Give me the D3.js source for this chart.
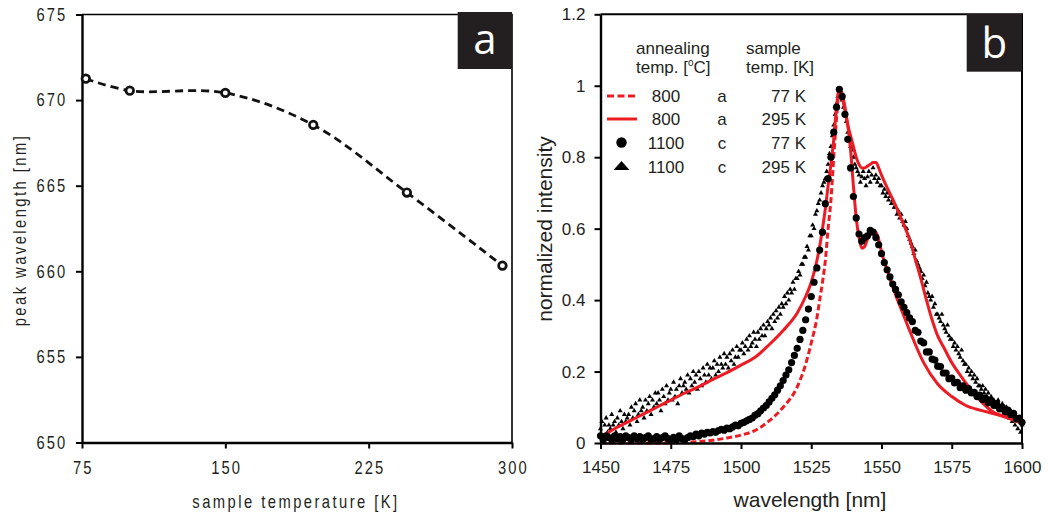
<!DOCTYPE html>
<html>
<head>
<meta charset="utf-8">
<script src="https://cdn.jsdelivr.net/npm/d3@7"></script>
<style>
  body { margin: 0; background: #fff; }
  svg text { font-family: "Liberation Sans", Arial, sans-serif; }
</style>
</head>
<body>
<svg id="chart" width="1049" height="516"></svg>
<script>
// ---- panel a: peak wavelength vs sample temperature
const tempK = [77, 100, 150, 196, 245, 295];
const peakNm = [671.25, 670.55, 670.42, 668.55, 664.6, 660.33];
const tempTicks = [75, 150, 225, 300];
const peakTicks = [650, 655, 660, 665, 670, 675];

// ---- panel b: normalized spectra
const waveTicks = [1450, 1475, 1500, 1525, 1550, 1575, 1600];
const intTicks = [0, 0.2, 0.4, 0.6, 0.8, 1, 1.2];

// 800 C, sample a, 77 K (red dashed)
const dash77Wave = [1450,1460,1470,1480,1485,1490,1495,1500,1505,1510,
  1515,1520,1523,1525,1527,1528,1529,1530,1531,1532,
  1533,1534,1535,1536,1537,1538,1539,1540,1541,1542,
  1543,1544,1545,1546,1547,1548,1549,1550,1552,1555,
  1558,1560,1565,1570,1575,1580,1585,1590,1595,1600];
const dash77Val = [0,0,0,0.002,0.004,0.008,0.014,0.022,0.035,0.062,
  0.1,0.157,0.22,0.28,0.35,0.40,0.45,0.51,0.60,0.68,
  0.80,0.91,0.99,0.98,0.94,0.89,0.82,0.72,0.63,0.575,
  0.545,0.55,0.57,0.585,0.595,0.59,0.57,0.535,0.485,0.415,
  0.355,0.315,0.225,0.165,0.13,0.105,0.092,0.082,0.072,0.055];

// 800 C, sample a, 295 K (red solid)
const solid295Wave = [1450,1455,1460,1465,1470,1475,1480,1485,1490,1495,
  1500,1505,1510,1515,1520,1523,1525,1527,1528,1529,
  1530,1531,1532,1533,1534,1535,1536,1537,1538,1539,
  1540,1541,1542,1543,1544,1545,1546,1547,1548,1549,
  1550,1552,1555,1558,1560,1562,1564,1566,1568,1570,
  1572,1575,1578,1580,1585,1590,1595,1600];
const solid295Val = [0.015,0.04,0.06,0.08,0.10,0.12,0.14,0.158,0.178,0.197,
  0.218,0.24,0.275,0.315,0.364,0.41,0.45,0.51,0.55,0.60,
  0.655,0.72,0.78,0.85,0.94,0.995,0.97,0.93,0.89,0.86,
  0.83,0.80,0.78,0.77,0.77,0.775,0.78,0.785,0.785,0.77,
  0.75,0.715,0.665,0.61,0.57,0.515,0.46,0.40,0.345,0.30,
  0.27,0.225,0.19,0.168,0.12,0.085,0.07,0.055];

// 1100 C, sample c, 77 K (circles), 1 nm steps from 1450
const circ77Val = [0.02,0.01,0.02,0.015,0.01,0.02,0.012,0.018,0.01,0.02,
  0.015,0.01,0.02,0.012,0.018,0.01,0.015,0.02,0.01,0.012,
  0.018,0.01,0.015,0.02,0.012,0.01,0.016,0.01,0.02,0.012,
  0.01,0.015,0.02,0.018,0.025,0.02,0.028,0.025,0.03,0.028,
  0.032,0.03,0.035,0.038,0.036,0.042,0.04,0.045,0.05,0.048,
  0.055,0.058,0.062,0.066,0.07,0.078,0.082,0.09,0.098,0.105,
  0.115,0.125,0.135,0.148,0.16,0.175,0.19,0.205,0.225,0.245,
  0.265,0.29,0.315,0.345,0.375,0.41,0.45,0.49,0.54,0.59,
  0.67,0.74,0.80,0.87,0.94,0.99,0.97,0.92,0.85,0.77,
  0.69,0.63,0.585,0.565,0.575,0.58,0.595,0.59,0.575,0.555,
  0.53,0.505,0.485,0.465,0.445,0.43,0.415,0.395,0.38,0.365,
  0.35,0.34,0.315,0.31,0.285,0.28,0.255,0.255,0.235,0.232,
  0.215,0.214,0.196,0.196,0.18,0.182,0.168,0.17,0.155,0.16,
  0.148,0.152,0.14,0.142,0.13,0.134,0.122,0.126,0.113,0.118,
  0.105,0.11,0.096,0.1,0.088,0.092,0.08,0.083,0.068,0.07,
  0.058];
const circStart = 1450, circStep = 1;

// 1100 C, sample c, 295 K (triangles), 0.5 nm steps from 1450
const tri295Val = [0.04,0.06,0.02,0.05,0.07,0.03,0.05,0.04,0.08,0.05,0.06,0.03,0.07,0.05,0.09,0.06,0.04,0.08,0.06,0.07,
  0.08,0.05,0.10,0.07,0.09,0.11,0.06,0.08,0.12,0.09,0.10,0.07,0.12,0.09,0.11,0.13,0.08,0.12,0.10,0.14,
  0.11,0.14,0.12,0.09,0.15,0.13,0.11,0.16,0.12,0.14,0.15,0.12,0.17,0.13,0.15,0.11,0.16,0.18,0.14,0.16,
  0.17,0.15,0.19,0.14,0.18,0.16,0.20,0.17,0.19,0.15,0.20,0.18,0.16,0.21,0.19,0.17,0.22,0.19,0.21,0.18,
  0.21,0.23,0.19,0.22,0.20,0.24,0.22,0.21,0.25,0.22,0.24,0.21,0.25,0.23,0.26,0.22,0.24,0.27,0.24,0.26,
  0.26,0.28,0.25,0.27,0.29,0.26,0.30,0.27,0.28,0.31,0.29,0.27,0.31,0.29,0.32,0.30,0.33,0.30,0.32,0.34,
  0.33,0.35,0.32,0.36,0.34,0.37,0.35,0.38,0.36,0.39,0.38,0.41,0.39,0.42,0.40,0.43,0.42,0.45,0.43,0.46,
  0.46,0.48,0.47,0.50,0.50,0.52,0.52,0.55,0.54,0.58,0.58,0.61,0.60,0.64,0.65,0.67,0.68,0.70,0.72,0.73,
  0.74,0.76,0.78,0.81,0.83,0.86,0.89,0.92,0.95,0.97,0.98,0.97,0.96,0.94,0.92,0.90,0.87,0.85,0.83,0.82,
  0.80,0.78,0.77,0.76,0.75,0.73,0.745,0.76,0.74,0.72,0.745,0.76,0.73,0.75,0.77,0.74,0.75,0.73,0.74,0.72,
  0.72,0.70,0.71,0.69,0.70,0.68,0.69,0.67,0.68,0.66,0.66,0.64,0.65,0.63,0.64,0.62,0.61,0.62,0.60,0.58,
  0.57,0.56,0.55,0.53,0.54,0.51,0.50,0.49,0.48,0.46,0.47,0.44,0.45,0.42,0.41,0.40,0.41,0.38,0.39,0.36,
  0.36,0.35,0.34,0.36,0.33,0.32,0.31,0.33,0.30,0.29,0.29,0.27,0.28,0.26,0.27,0.25,0.24,0.26,0.23,0.22,
  0.22,0.20,0.21,0.19,0.20,0.18,0.19,0.17,0.18,0.16,0.16,0.15,0.16,0.14,0.15,0.13,0.14,0.12,0.13,0.12,
  0.12,0.11,0.10,0.12,0.09,0.10,0.11,0.08,0.09,0.10,0.08,0.07,0.09,0.06,0.08,0.05,0.07,0.04,0.06,0.03,
  0.05];
const triStart = 1450, triStep = 0.5;

// legend rows
const legAnneal = ["800", "800", "1100", "1100"];
const legSample = ["a", "a", "c", "c"];
const legTemp = ["77 K", "295 K", "77 K", "295 K"];

const RED = "#ec1c24";
const INK = "#231f20";
const svg = d3.select("#chart");

function boxLabel(x, y, w, h, letter, baseY) {
  svg.append("rect").attr("x", x).attr("y", y).attr("width", w).attr("height", h)
    .attr("fill", INK);
  svg.append("text").attr("x", x + w / 2).attr("y", baseY)
    .attr("text-anchor", "middle").attr("fill", "#fff")
    .style("font-family", "'Open Sans', sans-serif").style("font-size", "42px")
    .text(letter);
}

// ================= panel a =================
const A = {left: 82, right: 512, top: 14.5, bottom: 442.5};
const xa = d3.scaleLinear().domain([75, 300]).range([A.left, A.right]);
const ya = d3.scaleLinear().domain([650, 675]).range([A.bottom, A.top]);
const SQ = 0.82; // squeeze to mimic a narrow face

const narrow = g => g.selectAll("text")
  .style("font-size", "18px").style("letter-spacing", "2.5px").attr("fill", INK);

svg.append("path")
  .attr("d", `M${A.left},${A.top}H${A.right}V${A.bottom}`)
  .attr("fill", "none").attr("stroke", "#000").attr("stroke-width", 1.6);

svg.append("g")
  .attr("transform", `translate(0,${A.bottom})`)
  .call(d3.axisBottom(xa).tickValues(tempTicks).tickSize(6).tickPadding(13).tickSizeOuter(0))
  .call(g => g.select(".domain").attr("stroke-width", 2.4))
  .call(g => g.selectAll(".tick line").attr("stroke-width", 2))
  .call(narrow)
  .call(g => g.selectAll(".tick text").attr("transform", `scale(${SQ},1)`).attr("dx", "1px"));

svg.append("g")
  .attr("transform", `translate(${A.left},0)`)
  .call(d3.axisLeft(ya).tickValues(peakTicks).tickSize(6).tickPadding(12).tickSizeOuter(0))
  .call(g => g.select(".domain").attr("stroke-width", 2.4))
  .call(g => g.selectAll(".tick line").attr("stroke-width", 2))
  .call(narrow)
  .call(g => g.selectAll(".tick text").attr("transform", `scale(${SQ},1)`));

const peakData = tempK.map((t, i) => ({t, v: peakNm[i]}));
svg.append("path")
  .datum(peakData)
  .attr("fill", "none").attr("stroke", "#111").attr("stroke-width", 2.8)
  .attr("stroke-dasharray", "8,5")
  .attr("d", d3.line().curve(d3.curveCatmullRom).x(d => xa(d.t)).y(d => ya(d.v)));

svg.append("g").selectAll("circle")
  .data(peakData).join("circle")
  .attr("cx", d => xa(d.t)).attr("cy", d => ya(d.v)).attr("r", 3.8)
  .attr("fill", "#fff").attr("stroke", "#111").attr("stroke-width", 2.7);

svg.append("text")
  .attr("transform", `translate(296,508) scale(${SQ},1)`).attr("text-anchor", "middle")
  .style("font-size", "18px").style("letter-spacing", "3px").attr("fill", INK)
  .text("sample temperature [K]");

svg.append("text")
  .attr("transform", `translate(26,230) rotate(-90) scale(${SQ},1)`).attr("text-anchor", "middle")
  .style("font-size", "18px").style("letter-spacing", "3px").attr("fill", INK)
  .text("peak wavelength [nm]");

boxLabel(457.7, 12, 54.3, 57, "a", 53.5);

// ================= panel b =================
const B = {left: 600.5, right: 1022, top: 14.3, bottom: 443};
const xb = d3.scaleLinear().domain([1450, 1600]).range([B.left, B.right]);
const yb = d3.scaleLinear().domain([0, 1.2]).range([B.bottom, B.top]);

const plain = g => g.selectAll("text")
  .style("font-size", "17px").attr("fill", INK);

// triangles (1100 c, 295 K)
const triData = tri295Val.map((v, i) => ({w: triStart + i * triStep, v}));
const triSym = d3.symbol().type(d3.symbolTriangle).size(11);
svg.append("g").selectAll("path")
  .data(triData).join("path")
  .attr("transform", d => `translate(${xb(d.w)},${yb(d.v)})`)
  .attr("d", triSym).attr("fill", "#000");

// red lines
const solidData = solid295Wave.map((w, i) => ({w, v: solid295Val[i]}));
const dashData = dash77Wave.map((w, i) => ({w, v: dash77Val[i]}));
const specLine = d3.line().curve(d3.curveMonotoneX).x(d => xb(d.w)).y(d => yb(d.v));

svg.append("path").datum(solidData)
  .attr("fill", "none").attr("stroke", RED).attr("stroke-width", 3)
  .attr("d", specLine);

// the 77 K trace reads dashed on the rising edge, dense (solid-looking) past the peak
svg.append("path").datum(dashData.filter(d => d.w <= 1536))
  .attr("fill", "none").attr("stroke", RED).attr("stroke-width", 3)
  .attr("stroke-dasharray", "6,3")
  .attr("d", specLine);
svg.append("path").datum(dashData.filter(d => d.w >= 1536))
  .attr("fill", "none").attr("stroke", RED).attr("stroke-width", 3)
  .attr("d", specLine);

// circles (1100 c, 77 K)
const circData = circ77Val.map((v, i) => ({w: circStart + i * circStep, v}));
svg.append("g").selectAll("circle")
  .data(circData).join("circle")
  .attr("cx", d => xb(d.w)).attr("cy", d => yb(d.v)).attr("r", 3.6)
  .attr("fill", "#000");

// frame + axes
svg.append("path")
  .attr("d", `M${B.left},${B.top}H${B.right}V${B.bottom}`)
  .attr("fill", "none").attr("stroke", "#000").attr("stroke-width", 2);

svg.append("g")
  .attr("transform", `translate(0,${B.bottom})`)
  .call(d3.axisBottom(xb).tickValues(waveTicks).tickFormat(d3.format("d")).tickSize(6).tickPadding(12).tickSizeOuter(0))
  .call(g => g.select(".domain").attr("stroke-width", 2.4))
  .call(g => g.selectAll(".tick line").attr("stroke-width", 2))
  .call(plain);

svg.append("g")
  .attr("transform", `translate(${B.left},0)`)
  .call(d3.axisLeft(yb).tickValues(intTicks).tickFormat(d3.format("")).tickSize(6).tickPadding(9).tickSizeOuter(0))
  .call(g => g.select(".domain").attr("stroke-width", 2.4))
  .call(g => g.selectAll(".tick line").attr("stroke-width", 2))
  .call(plain);

svg.append("text")
  .attr("x", 810).attr("y", 507).attr("text-anchor", "middle")
  .style("font-size", "21px").attr("fill", INK)
  .text("wavelength [nm]");

svg.append("text")
  .attr("transform", "translate(552,229) rotate(-90)").attr("text-anchor", "middle")
  .style("font-size", "21px").attr("fill", INK)
  .text("normalized intensity");

// legend
const leg = svg.append("g").style("font-size", "17px").attr("fill", INK);
leg.append("text").attr("x", 636).attr("y", 54).text("annealing");
const hdr = leg.append("text").attr("x", 636).attr("y", 73);
hdr.append("tspan").text("temp. [");
hdr.append("tspan").attr("dy", -7).style("font-size", "10px").text("o");
hdr.append("tspan").attr("dy", 7).text("C]");
leg.append("text").attr("x", 746).attr("y", 54).text("sample");
leg.append("text").attr("x", 746).attr("y", 73).text("temp. [K]");

const rowY = [96, 119, 142.5, 166.5];
rowY.forEach((cy, i) => {
  leg.append("text").attr("x", 666).attr("y", cy + 6).attr("text-anchor", "middle").text(legAnneal[i]);
  leg.append("text").attr("x", 722).attr("y", cy + 6).attr("text-anchor", "middle").text(legSample[i]);
  leg.append("text").attr("x", 806).attr("y", cy + 6).attr("text-anchor", "end").text(legTemp[i]);
});
leg.append("line").attr("x1", 607).attr("x2", 637).attr("y1", rowY[0]).attr("y2", rowY[0])
  .attr("stroke", RED).attr("stroke-width", 3).attr("stroke-dasharray", "7,3.5");
leg.append("line").attr("x1", 607).attr("x2", 637).attr("y1", rowY[1]).attr("y2", rowY[1])
  .attr("stroke", RED).attr("stroke-width", 3);
leg.append("circle").attr("cx", 621.5).attr("cy", rowY[2]).attr("r", 5.2).attr("fill", "#000");
leg.append("path").attr("transform", `translate(621.5,${rowY[3] - 1})`)
  .attr("d", "M-8,4.5L0,-4.5L8,4.5Z").attr("fill", "#000");

boxLabel(966.7, 14, 55.3, 57.7, "b", 58);
</script>
</body>
</html>
